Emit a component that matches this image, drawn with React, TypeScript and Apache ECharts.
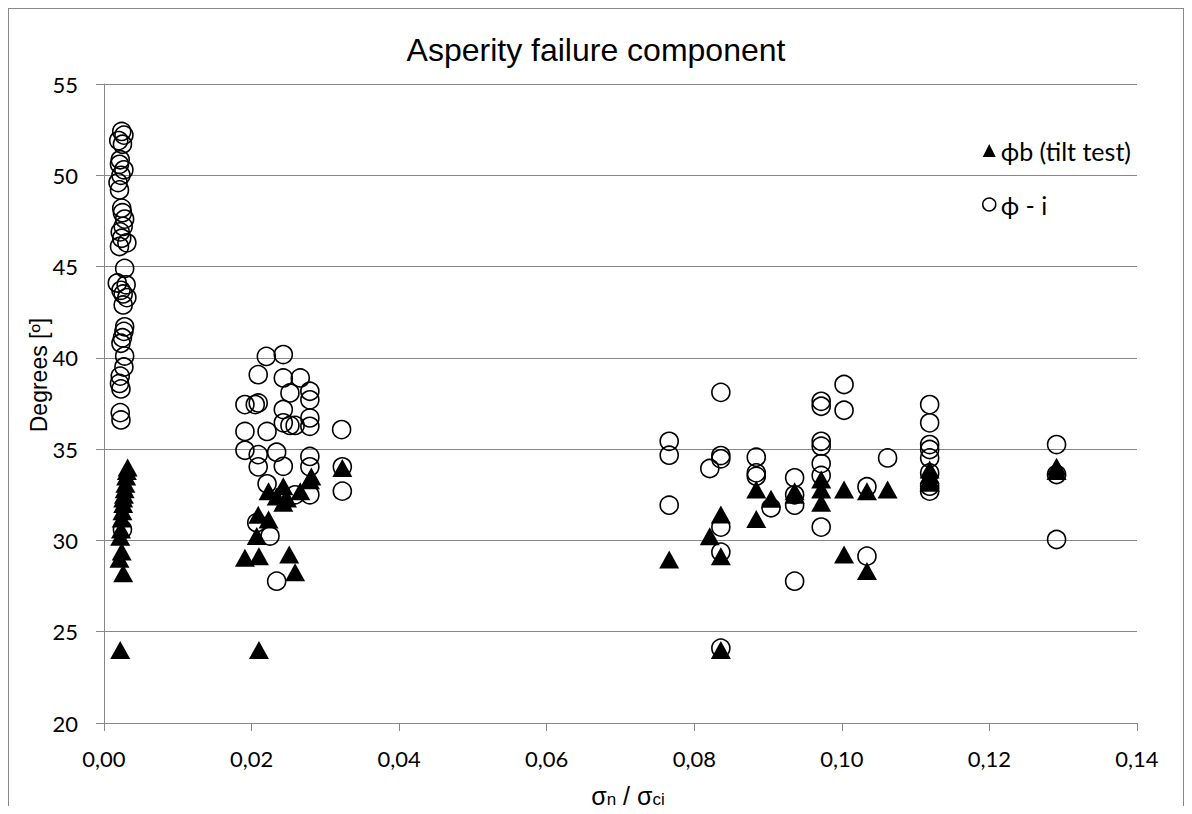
import React, { useEffect, useRef } from "react";
import * as echarts from "echarts";

// ϕ - i  (open circles): [σn/σci, degrees]
const phiMinusI_low: [number, number][] = [
  [0.0024, 52.4], [0.0027, 52.2], [0.002, 51.9], [0.0025, 51.7], [0.0022, 50.85], [0.0021, 50.6],
  [0.0027, 50.3], [0.0023, 50.0], [0.0019, 49.6], [0.0021, 49.2], [0.0024, 48.2], [0.0025, 47.95],
  [0.0028, 47.6], [0.0026, 47.2], [0.0022, 46.9], [0.0024, 46.55], [0.0031, 46.3], [0.0021, 46.1],
  [0.0028, 44.9], [0.0018, 44.1], [0.003, 44.0], [0.0023, 43.7], [0.0026, 43.5], [0.0031, 43.3],
  [0.0026, 42.9], [0.0028, 41.7], [0.0027, 41.45], [0.0025, 41.1], [0.0023, 40.8], [0.0028, 40.1],
  [0.0027, 39.5], [0.0022, 39.0], [0.0021, 38.6], [0.0023, 38.3], [0.0022, 37.0], [0.0023, 36.6],
  [0.0025, 30.6],
];
const phiMinusI_mid: [number, number][] = [
  [0.022, 40.08], [0.0243, 40.18], [0.0209, 39.08], [0.0243, 38.9], [0.0266, 38.9], [0.0279, 38.17],
  [0.0252, 38.08], [0.0279, 37.7], [0.0191, 37.44], [0.0205, 37.44], [0.0209, 37.53], [0.0243, 37.17],
  [0.0279, 36.71], [0.0243, 36.44], [0.0252, 36.3], [0.0259, 36.3], [0.0279, 36.25], [0.0191, 35.97],
  [0.0221, 35.97], [0.0322, 36.07], [0.0191, 34.94], [0.0209, 34.7], [0.0234, 34.83], [0.0209, 34.03],
  [0.0243, 34.06], [0.0279, 34.6], [0.0279, 34.03], [0.0323, 34.03], [0.0221, 33.1], [0.0259, 32.5],
  [0.0279, 32.5], [0.0323, 32.7], [0.0207, 30.97], [0.0225, 30.24], [0.0234, 27.77],
];
const phiMinusI_high: [number, number][] = [
  [0.0766, 35.43], [0.0766, 34.67], [0.0766, 31.93], [0.0836, 38.11], [0.0836, 34.65], [0.0836, 34.47],
  [0.0821, 33.94], [0.0836, 30.73], [0.0836, 29.36], [0.0836, 24.1], [0.0884, 34.56], [0.0884, 33.7],
  [0.0884, 33.52], [0.0936, 33.43], [0.0936, 32.5], [0.0936, 31.93], [0.0904, 31.79], [0.0936, 27.77],
  [0.0972, 37.62], [0.0972, 37.35], [0.0972, 35.43], [0.0972, 35.16], [0.0972, 34.21], [0.0972, 33.56],
  [0.0972, 30.73], [0.1003, 38.54], [0.1003, 37.13], [0.1062, 34.52], [0.1034, 32.94], [0.1034, 29.14],
  [0.1119, 37.44], [0.1119, 36.44], [0.1119, 35.25], [0.1119, 34.98], [0.1119, 34.52], [0.1119, 33.7],
  [0.1119, 32.97], [0.1119, 32.7], [0.1291, 35.25], [0.1291, 33.61], [0.1291, 30.05],
];

// ϕb (tilt test)  (filled triangles)
const tilt_low: [number, number][] = [
  [0.0032, 34.0], [0.0031, 33.8], [0.003, 33.5], [0.0029, 33.1], [0.0028, 32.8], [0.0027, 32.5],
  [0.0026, 32.3], [0.0026, 32.0], [0.0025, 31.6], [0.0024, 31.2], [0.0023, 30.6], [0.0022, 30.2],
  [0.0024, 29.4], [0.0021, 29.0], [0.0026, 28.2], [0.0022, 24.0],
];
const tilt_mid: [number, number][] = [
  [0.0323, 33.97], [0.0281, 33.5], [0.0279, 33.3], [0.0243, 32.97], [0.0223, 32.7], [0.0234, 32.4],
  [0.0248, 32.3], [0.0266, 32.7], [0.0243, 32.06], [0.0209, 31.4], [0.0223, 31.15], [0.0207, 30.24],
  [0.0191, 29.05], [0.021, 29.14], [0.0251, 29.23], [0.0259, 28.26], [0.021, 24.0],
];
const tilt_high: [number, number][] = [
  [0.0766, 28.96], [0.0836, 31.42], [0.0821, 30.23], [0.0836, 29.14], [0.0836, 24.0], [0.0884, 32.79],
  [0.0884, 31.18], [0.0904, 32.28], [0.0936, 32.7], [0.0936, 32.5], [0.0972, 33.34], [0.0972, 32.79],
  [0.0972, 32.06], [0.1003, 32.79], [0.1003, 29.23], [0.1034, 32.7], [0.1034, 28.32], [0.1062, 32.79],
  [0.1119, 33.88], [0.1119, 33.6], [0.1119, 33.34], [0.1119, 33.16], [0.1291, 34.03], [0.1291, 33.8],
];

const seriesNames = ["ϕb (tilt test)", "ϕ - i"];
const titleText = "Asperity failure component";
const yAxisTitle = "Degrees [º]";

const GRID = "#878787";
const TICK_FONT = "Lato, 'Open Sans', sans-serif";
const ARIAL = "'Liberation Sans', Arial, sans-serif";

export default function App() {
  const ref = useRef<HTMLDivElement>(null);
  useEffect(() => {
    if (!ref.current) return;
    document.body.style.overflow = "hidden";
    const chart = echarts.init(ref.current, undefined, { renderer: "svg" });
    chart.setOption({
      animation: false,
      backgroundColor: "#fff",
      title: {
        text: titleText,
        left: "center",
        top: 20,
        textStyle: { fontFamily: ARIAL, fontWeight: "normal", fontSize: 32, color: "#000" },
      },
      grid: { left: 95, right: 46, top: 75, bottom: 91, containLabel: false },
      legend: {
        orient: "vertical",
        left: 973,
        top: 129,
        padding: 0,
        itemGap: 29,
        itemWidth: 13,
        itemHeight: 13,
        textStyle: { fontFamily: TICK_FONT, fontSize: 25, color: "#000", lineHeight: 24 },
        data: [
          { name: seriesNames[0], icon: "triangle", itemStyle: { color: "#000", borderWidth: 0 } },
          { name: seriesNames[1], icon: "circle", itemStyle: { color: "#fff", borderColor: "#000", borderWidth: 1.5 } },
        ],
      },
      xAxis: {
        type: "value",
        min: 0,
        max: 0.14,
        interval: 0.02,
        axisLine: { show: true, lineStyle: { color: GRID, width: 1 } },
        axisTick: { show: true, length: 8, inside: false, lineStyle: { color: GRID } },
        splitLine: { show: false },
        axisLabel: {
          margin: 24,
          fontFamily: TICK_FONT,
          fontSize: 22,
          color: "#000",
          formatter: (v: number) => v.toFixed(2).replace(".", ","),
        },
      },
      yAxis: {
        type: "value",
        min: 20,
        max: 55,
        interval: 5,
        axisLine: { show: true, lineStyle: { color: GRID, width: 1 } },
        axisTick: { show: true, length: 8, inside: false, lineStyle: { color: GRID } },
        splitLine: { show: true, lineStyle: { color: GRID, width: 1 } },
        axisLabel: { margin: 26, fontFamily: TICK_FONT, fontSize: 22, color: "#000" },
      },
      graphic: [
        {
          type: "text",
          x: 30,
          y: 366,
          rotation: Math.PI / 2,
          style: {
            text: yAxisTitle,
            fontFamily: ARIAL,
            fontSize: 23,
            fill: "#000",
            align: "center",
            verticalAlign: "middle",
          },
        },
        {
          type: "text",
          x: 619,
          y: 785,
          style: {
            text: "{m|σ}{s|n}{m| / σ}{s|ci}",
            align: "center",
            verticalAlign: "middle",
            rich: {
              m: { fontFamily: ARIAL, fontSize: 25, fill: "#000", lineHeight: 28, verticalAlign: "bottom" },
              s: { fontFamily: ARIAL, fontSize: 17, fill: "#000", lineHeight: 10, verticalAlign: "bottom" },
            },
          },
        },
      ],
      series: [
        {
          name: seriesNames[1],
          type: "scatter",
          symbol: "circle",
          symbolSize: 18,
          z: 2,
          itemStyle: { color: "rgba(255,255,255,0)", borderColor: "#000", borderWidth: 1.6, opacity: 1 },
          emphasis: { disabled: true },
          data: [...phiMinusI_low, ...phiMinusI_mid, ...phiMinusI_high],
        },
        {
          name: seriesNames[0],
          type: "scatter",
          symbol: "triangle",
          symbolSize: [20, 18],
          z: 3,
          itemStyle: { color: "#000", opacity: 1 },
          emphasis: { disabled: true },
          data: [...tilt_low, ...tilt_mid, ...tilt_high],
        },
      ],
    });
    return () => chart.dispose();
  }, []);
  return (
    <div
      style={{
        width: 1176,
        height: 806,
        marginBottom: -8,
        border: "1px solid #888",
        borderBottom: "none",
        boxSizing: "border-box",
        position: "relative",
        overflow: "hidden",
      }}
    >
      <div ref={ref} style={{ width: 1174, height: 805 }} />
    </div>
  );
}
